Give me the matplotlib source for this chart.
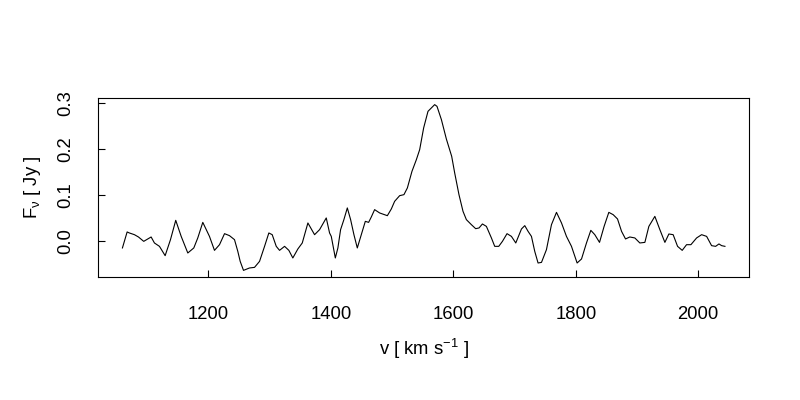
import matplotlib
matplotlib.use('Agg')
import matplotlib.pyplot as plt

plt.rcParams['font.family'] = ['Liberation Sans', 'DejaVu Sans']
plt.rcParams['mathtext.fontset'] = 'custom'
plt.rcParams['mathtext.rm'] = 'Liberation Sans'
plt.rcParams['mathtext.it'] = 'Liberation Sans'

# velocity [km/s] and flux density [Jy]
velocity = [
    1059.4, 1067.1, 1070.8, 1079.0, 1085.6, 1094.2, 1100.8, 1106.3, 1111.7, 1119.9,
    1129.2, 1137.9, 1146.5, 1155.4, 1166.2, 1176.0, 1182.5, 1190.7, 1201.6, 1209.8,
    1218.0, 1226.2, 1234.3, 1242.5, 1247.9, 1251.8, 1257.2, 1267.0, 1275.2, 1283.4,
    1291.6, 1298.6, 1304.1, 1310.7, 1316.1, 1324.3, 1331.3, 1337.8, 1346.0, 1353.2,
    1362.4, 1373.3, 1381.5, 1392.4, 1397.8, 1400.6, 1407.2, 1411.4, 1415.8, 1421.2,
    1426.8, 1432.2, 1437.6, 1443.1, 1449.7, 1456.2, 1461.6, 1466.0, 1471.4, 1479.6,
    1492.2, 1498.7, 1504.1, 1512.3, 1519.3, 1524.9, 1532.4, 1539.6, 1545.0, 1551.5,
    1558.6, 1564.1, 1569.5, 1573.3, 1580.5, 1588.6, 1597.3, 1602.2, 1609.2, 1615.8,
    1621.3, 1629.5, 1636.5, 1642.0, 1647.5, 1654.0, 1662.2, 1667.6, 1674.2, 1680.2,
    1687.7, 1694.9, 1702.0, 1711.3, 1716.7, 1722.1, 1727.6, 1733.0, 1738.4, 1744.0,
    1752.1, 1760.3, 1768.5, 1776.7, 1784.8, 1793.0, 1802.2, 1809.4, 1817.5, 1824.6,
    1831.1, 1838.8, 1846.3, 1854.0, 1861.1, 1868.2, 1874.8, 1881.3, 1888.3, 1896.5,
    1904.7, 1912.9, 1919.4, 1929.2, 1937.4, 1945.6, 1952.1, 1959.1, 1966.3, 1973.9,
    1981.0, 1988.1, 1997.4, 2005.6, 2013.8, 2021.9, 2028.5, 2033.9, 2038.3, 2043.7,
]
flux = [
    -0.0143, 0.0204, 0.0182, 0.0145, 0.0095, 0.0000, 0.0052, 0.0095, -0.0035, -0.0108,
    -0.0310, 0.0037, 0.0456, 0.0108, -0.0252, -0.0143, 0.0074, 0.0412, 0.0108, -0.0195,
    -0.0072, 0.0167, 0.0124, 0.0037, -0.0217, -0.0434, -0.0629, -0.0577, -0.0564, -0.0434,
    -0.0108, 0.0182, 0.0145, -0.0108, -0.0195, -0.0108, -0.0195, -0.0360, -0.0165, -0.0035,
    0.0399, 0.0145, 0.0254, 0.0508, 0.0182, 0.0108, -0.0360, -0.0143, 0.0254, 0.0471,
    0.0725, 0.0471, 0.0145, -0.0143, 0.0145, 0.0434, 0.0412, 0.0529, 0.0688, 0.0616,
    0.0557, 0.0703, 0.0868, 0.0991, 0.1013, 0.1158, 0.1518, 0.1772, 0.1989, 0.2460,
    0.2820, 0.2894, 0.2965, 0.2928, 0.2640, 0.2220, 0.1844, 0.1484, 0.1013, 0.0651,
    0.0471, 0.0362, 0.0275, 0.0291, 0.0377, 0.0325, 0.0074, -0.0108, -0.0108, 0.0000,
    0.0167, 0.0108, -0.0035, 0.0269, 0.0341, 0.0217, 0.0108, -0.0217, -0.0469, -0.0456,
    -0.0180, 0.0362, 0.0629, 0.0399, 0.0108, -0.0108, -0.0469, -0.0382, -0.0035, 0.0239,
    0.0145, -0.0022, 0.0325, 0.0629, 0.0579, 0.0486, 0.0217, 0.0052, 0.0095, 0.0074,
    -0.0035, -0.0022, 0.0325, 0.0542, 0.0254, -0.0022, 0.0160, 0.0145, -0.0108, -0.0195,
    -0.0072, -0.0072, 0.0074, 0.0145, 0.0108, -0.0093, -0.0108, -0.0056, -0.0093, -0.0108,
]
x_ticks = [1200, 1400, 1600, 1800, 2000]
y_ticks = [0.0, 0.1, 0.2, 0.3]

fig = plt.figure(figsize=(8, 4), dpi=100)
ax = fig.add_axes([0.1229, 0.3075, 0.8134, 0.4475])

ax.plot(velocity, flux, color='black', lw=0.8, solid_joinstyle='round')

# R-style 4% padding around the data range
xr = max(velocity) - min(velocity)
yr = max(flux) - min(flux)
ax.set_xlim(min(velocity) - 0.04 * xr, max(velocity) + 0.04 * xr)
ax.set_ylim(min(flux) - 0.04 * yr, max(flux) + 0.04 * yr)

ax.set_xticks(x_ticks)
ax.set_yticks(y_ticks)
ax.set_yticklabels(['%.1f' % t for t in y_ticks], rotation=90, va='center')
ax.tick_params(direction='in', length=5, width=0.8, labelsize=13.3, colors='black')
ax.tick_params(axis='x', pad=21)
ax.tick_params(axis='y', pad=17)

for s in ax.spines.values():
    s.set_linewidth(0.8)
    s.set_color('black')

ax.set_xlabel(r'v [ km s$^{-1}$ ]', fontsize=13.3, labelpad=10)
ax.set_ylabel(r'F$_{\nu}$ [ Jy ]', fontsize=13.3)
ax.yaxis.set_label_coords(-0.085, 0.5)

fig.savefig('out.png', dpi=100)
